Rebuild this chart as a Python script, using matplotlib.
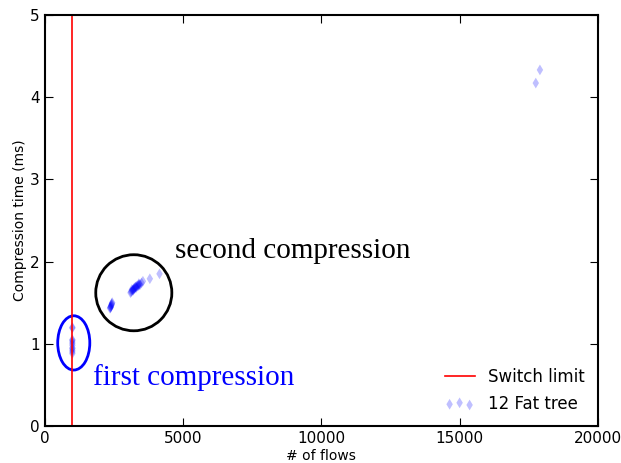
import matplotlib.pyplot as plt
from matplotlib.patches import Ellipse

# number of flows vs compression time for the 12-ary fat tree
flows = [1000, 1000, 1000, 1000, 1000, 1000, 1000, 1000, 1000, 1000, 1000, 1000,
         2360, 2370, 2380, 2390, 2400, 2410, 2420, 2430, 2440,
         3100, 3150, 3150, 3200, 3200, 3250, 3250, 3300, 3300, 3350,
         3120, 3180, 3220, 3280, 3320, 3380, 3420,
         3400, 3400, 3450, 3500, 3550, 3800, 4150,
         17750, 17900]
comp_time = [0.88, 0.90, 0.92, 0.94, 0.95, 0.98, 1.00, 1.02, 1.04, 1.05, 1.19, 1.20,
             1.43, 1.44, 1.44, 1.45, 1.46, 1.47, 1.48, 1.49, 1.50,
             1.62, 1.64, 1.66, 1.65, 1.66, 1.67, 1.68, 1.68, 1.69, 1.70,
             1.63, 1.65, 1.67, 1.69, 1.70, 1.71, 1.72,
             1.71, 1.73, 1.72, 1.74, 1.76, 1.79, 1.85,
             4.17, 4.33]
switch_limit = 1000

fig, ax = plt.subplots(figsize=(6.21, 4.63), dpi=100)
fig.subplots_adjust(left=0.072, right=0.963, top=0.968, bottom=0.08)

ax.axvline(switch_limit, color='red', lw=1.2, label='Switch limit')
ax.scatter(flows, comp_time, marker='d', s=30, color='blue', alpha=0.25,
           edgecolors='none', label='12 Fat tree')

ax.add_patch(Ellipse((1050, 1.01), 1160, 0.66, fill=False, ec='blue', lw=2))
ax.add_patch(Ellipse((3220, 1.62), 2750, 0.925, fill=False, ec='black', lw=2))

ax.text(4700, 2.04, 'second compression', family='Liberation Serif',
        fontsize=21, color='black')
ax.text(1750, 0.5, 'first compression', family='Liberation Serif',
        fontsize=21, color='blue')

ax.set_xlim(0, 20000)
ax.set_ylim(0, 5)
ax.set_xticks([0, 5000, 10000, 15000, 20000])
ax.set_xlabel('# of flows', fontsize=10, labelpad=2)
ax.set_ylabel('Compression time (ms)', fontsize=10, labelpad=2)
ax.tick_params(direction='in', top=True, right=True, length=6, labelsize=11)
for sp in ax.spines.values():
    sp.set_linewidth(1.5)

ax.legend(loc='lower right', frameon=False, scatterpoints=3, fontsize=12,
          handlelength=1.8, borderaxespad=0.4)

fig.savefig('out.png')
